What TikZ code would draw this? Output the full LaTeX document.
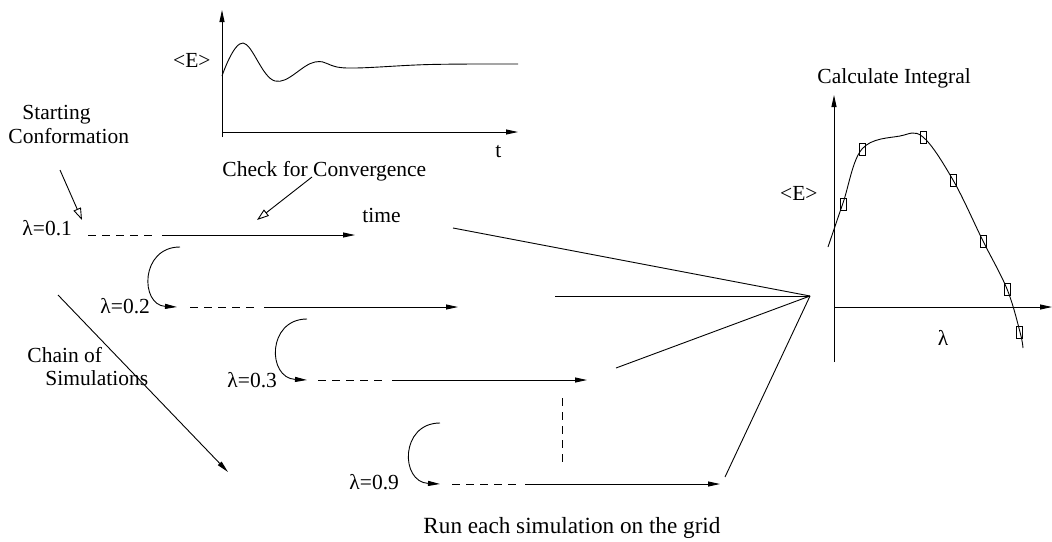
\documentclass[tikz,border=0pt]{standalone}
\usepackage{fontspec}
\setmainfont{Liberation Serif}
\usetikzlibrary{arrows.meta}
\begin{document}
\begin{tikzpicture}[x=1pt,y=-1pt,
  line width=0.9pt,
  lbl/.style={inner sep=0pt,font=\fontsize{21.5}{23}\selectfont},
  fhead/.style={-{Triangle[length=12pt,width=5pt]}},
  ohead/.style={-{Triangle[open,length=12pt,width=8pt,line width=0.9pt]}},
  dsh/.style={dash pattern=on 8pt off 6pt},
  mk/.style={draw,rectangle,inner sep=0pt,minimum width=6pt,minimum height=12pt,line width=0.8pt}]
\useasboundingbox (0,0) rectangle (1052,541);

% ---------- top convergence chart ----------
\coordinate (tya0) at (222,137);
\coordinate (tya1) at (222,10);
\coordinate (txa0) at (222,132);
\coordinate (txa1) at (518,132);
\draw[fhead] (tya0) -- (tya1);
\draw[fhead] (txa0) -- (txa1);
\draw plot[smooth,tension=0.65] coordinates {(222,76) (243,43) (275,81) (315,62) (347,68) (430,64.5) (518,64)};
\node[lbl,anchor=base east] (tE) at (211,67) {<E>};
\node[lbl,anchor=base west] (tt) at (495,157) {t};

% ---------- labels ----------
\node[lbl,anchor=base west] (check) at (222,176) {Check for Convergence};
\node[lbl,anchor=base west,align=left] (start) at (8,143) {\hspace*{14pt}Starting\\[1pt]Conformation};
\node[lbl,anchor=base west,align=left] (chain) at (27,385) {Chain of\\\hspace*{18pt}Simulations};
\node[lbl,anchor=base west] (time) at (362,222) {time};
\node[lbl,anchor=base west,font=\fontsize{23.2}{25}\selectfont] (run) at (423,533) {Run each simulation on the grid};

% pointers
\coordinate (sa0) at (60,170);
\coordinate (sa1) at (82,220);
\draw[ohead] (sa0) -- (sa1);
\coordinate (ca0) at (312,177);
\coordinate (ca1) at (257,220);
\draw[ohead] (ca0) -- (ca1);
\coordinate (ch0) at (58,295);
\coordinate (ch1) at (228,472);
\draw[fhead] (ch0) -- (ch1);

% ---------- simulation chain ----------
\node[lbl,anchor=base west] (l1) at (22,235) {λ=0.1};
\coordinate (d1a) at (88,235);
\coordinate (d1b) at (157,235);
\coordinate (s1a) at (162,235);
\coordinate (s1b) at (355,235);
\draw[dsh] (d1a) -- (d1b);
\draw[fhead] (s1a) -- (s1b);

\coordinate (c1a) at (180,247);
\coordinate (c1b) at (177,307);
\draw[fhead] (c1a) .. controls (140,247) and (140,305) .. (c1b);
\node[lbl,anchor=base west] (l2) at (100,313) {λ=0.2};
\coordinate (d2a) at (190,307);
\coordinate (d2b) at (258,307);
\coordinate (s2a) at (264,307);
\coordinate (s2b) at (458,307);
\draw[dsh] (d2a) -- (d2b);
\draw[fhead] (s2a) -- (s2b);

\coordinate (c2a) at (307,319);
\coordinate (c2b) at (307,380);
\draw[fhead] (c2a) .. controls (267,319) and (267,378) .. (c2b);
\node[lbl,anchor=base west] (l3) at (227,387) {λ=0.3};
\coordinate (d3a) at (318,380);
\coordinate (d3b) at (386,380);
\coordinate (s3a) at (392,380);
\coordinate (s3b) at (587,380);
\draw[dsh] (d3a) -- (d3b);
\draw[fhead] (s3a) -- (s3b);

\coordinate (v1) at (562,398);
\coordinate (v2) at (562,463);
\draw[dsh] (v1) -- (v2);

\coordinate (c3a) at (440,423);
\coordinate (c3b) at (440,484);
\draw[fhead] (c3a) .. controls (400,423) and (400,482) .. (c3b);
\node[lbl,anchor=base west] (l9) at (349,489) {λ=0.9};
\coordinate (d9a) at (452,484);
\coordinate (d9b) at (520,484);
\coordinate (s9a) at (525,484);
\coordinate (s9b) at (720,484);
\draw[dsh] (d9a) -- (d9b);
\draw[fhead] (s9a) -- (s9b);

% ---------- fan to integral ----------
\coordinate (fan) at (810,296);
\coordinate (f1) at (453,228);
\coordinate (f2) at (555,296);
\coordinate (f3) at (616,368);
\coordinate (f4) at (725,477);
\draw (f1) -- (fan);
\draw (f2) -- (fan);
\draw (f3) -- (fan);
\draw (f4) -- (fan);

% ---------- integral chart ----------
\node[lbl,anchor=base west] (calc) at (817,83) {Calculate Integral};
\coordinate (rya0) at (834,362);
\coordinate (rya1) at (834,95);
\coordinate (rxa0) at (834,307);
\coordinate (rxa1) at (1052,307);
\draw[fhead] (rya0) -- (rya1);
\draw[fhead] (rxa0) -- (rxa1);
\node[lbl,anchor=base east] (rE) at (818,200) {<E>};
\node[lbl,anchor=center] (rl) at (943,338) {λ};
\draw plot[smooth,tension=0.6] coordinates {(828,247) (843,203) (862,149) (900,136) (923,137) (953,180) (983,241) (1007,289) (1020,332) (1023,348)};
\node[mk] (m1) at (843,204) {};
\node[mk] (m2) at (862,149) {};
\node[mk] (m3) at (923,137) {};
\node[mk] (m4) at (953,180) {};
\node[mk] (m5) at (983,241) {};
\node[mk] (m6) at (1007,289) {};
\node[mk] (m7) at (1019,332) {};
\end{tikzpicture}
\end{document}
